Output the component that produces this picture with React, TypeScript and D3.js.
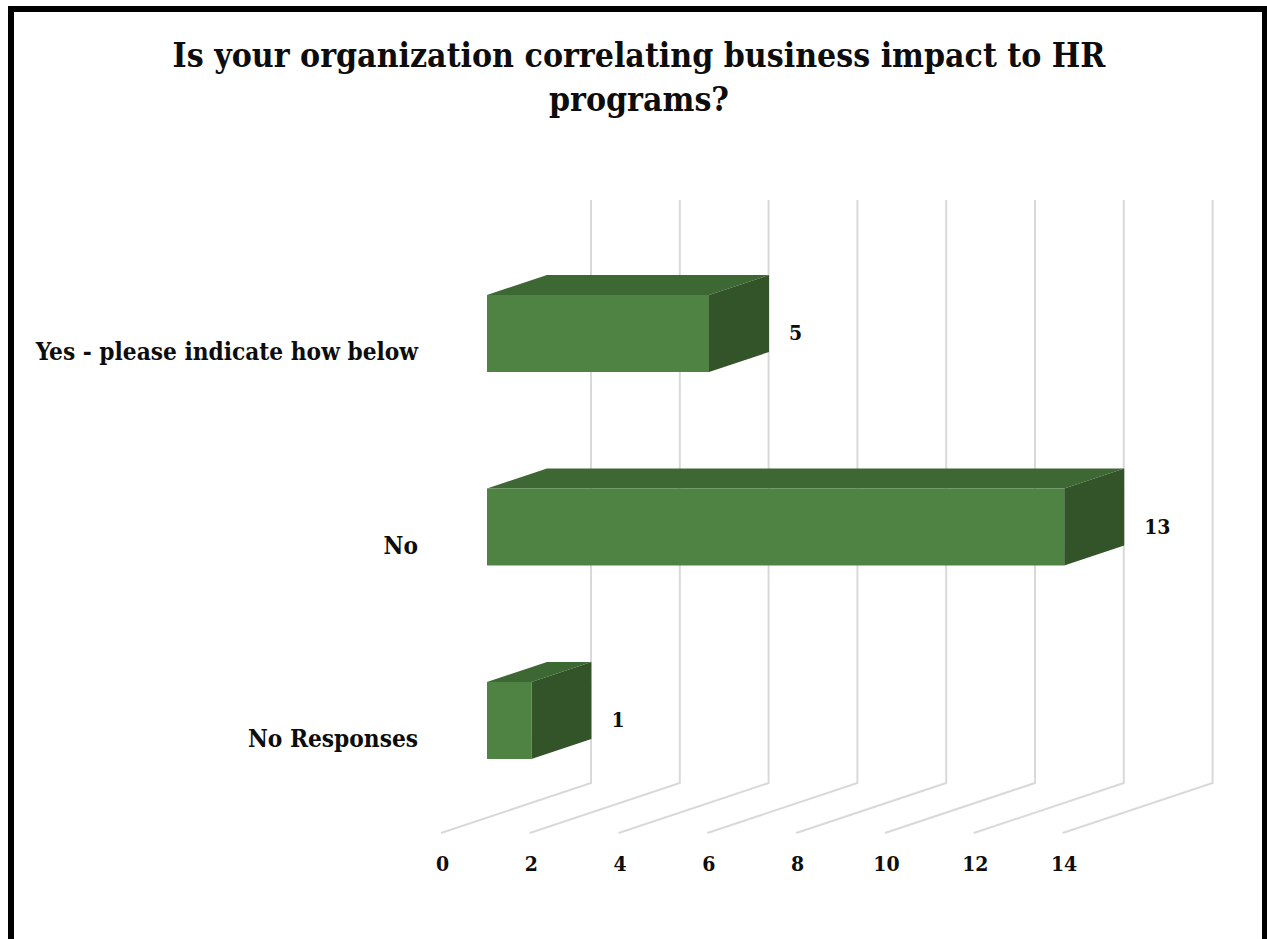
import React from "react";
import * as d3 from "d3";

const titleLines = ["Is your organization correlating business impact to HR", "programs?"];
const categories = ["Yes - please indicate how below", "No", "No Responses"];
const values = [5, 13, 1];
const ticks = [0, 2, 4, 6, 8, 10, 12, 14];

const W = 1267, H = 939;
const COL = { front: "#4f8343", top: "#3d6733", side: "#335329", grid: "#d9d9d9" };

const x = d3.scaleLinear().domain([0, 14]).range([441, 441 + 44.4 * 14]);
const y = d3.scalePoint<string>().domain(categories).range([295, 682]);
const DX = 150, DY = 50;
const barOff = 46;
const bdx = 60, bdy = 20;

export default function App() {
  const floorY = 833;
  const topY = 200;
  const bh = 77;
  return (
    <svg width={W} height={H} style={{ position: "absolute", left: 0, top: 0, background: "#fff" }}
      fontFamily="'DejaVu Serif', serif" fontStretch="condensed" fontWeight="bold" fill="#0d0d0d">
      <rect x={11} y={9} width={1254} height={H + 20} fill="#fff" stroke="#000" strokeWidth={6} />
      {titleLines.map((t, i) => (
        <text key={t} x={639} y={67 + i * 44} textAnchor="middle" fontSize={33.5}>{t}</text>
      ))}
      {ticks.map(t => (
        <path key={t} fill="none" stroke={COL.grid} strokeWidth={2}
          d={`M${x(t)},${floorY}L${x(t) + DX},${floorY - DY}L${x(t) + DX},${topY}`} />
      ))}
      {ticks.map(t => (
        <text key={t} x={x(t) + 1.5} y={871} textAnchor="middle" fontSize={21}>{t}</text>
      ))}
      {categories.map((c, i) => {
        const x0 = x(0) + barOff;
        const x1 = x(values[i]) + barOff;
        const y0 = y(c)!;
        const y1 = y0 + bh;
        return (
          <g key={c}>
            <path fill={COL.top} d={`M${x0},${y0}L${x0 + bdx},${y0 - bdy}L${x1 + bdx},${y0 - bdy}L${x1},${y0}Z`} />
            <path fill={COL.side} d={`M${x1},${y0}L${x1 + bdx},${y0 - bdy}L${x1 + bdx},${y1 - bdy}L${x1},${y1}Z`} />
            <rect x={x0} y={y0} width={x1 - x0} height={bh} fill={COL.front} />
            <text x={418} y={y0 + 65} textAnchor="end" fontSize={24.2}>{c}</text>
            <text x={x1 + bdx + 20} y={y0 + 45} fontSize={21}>{values[i]}</text>
          </g>
        );
      })}
    </svg>
  );
}
